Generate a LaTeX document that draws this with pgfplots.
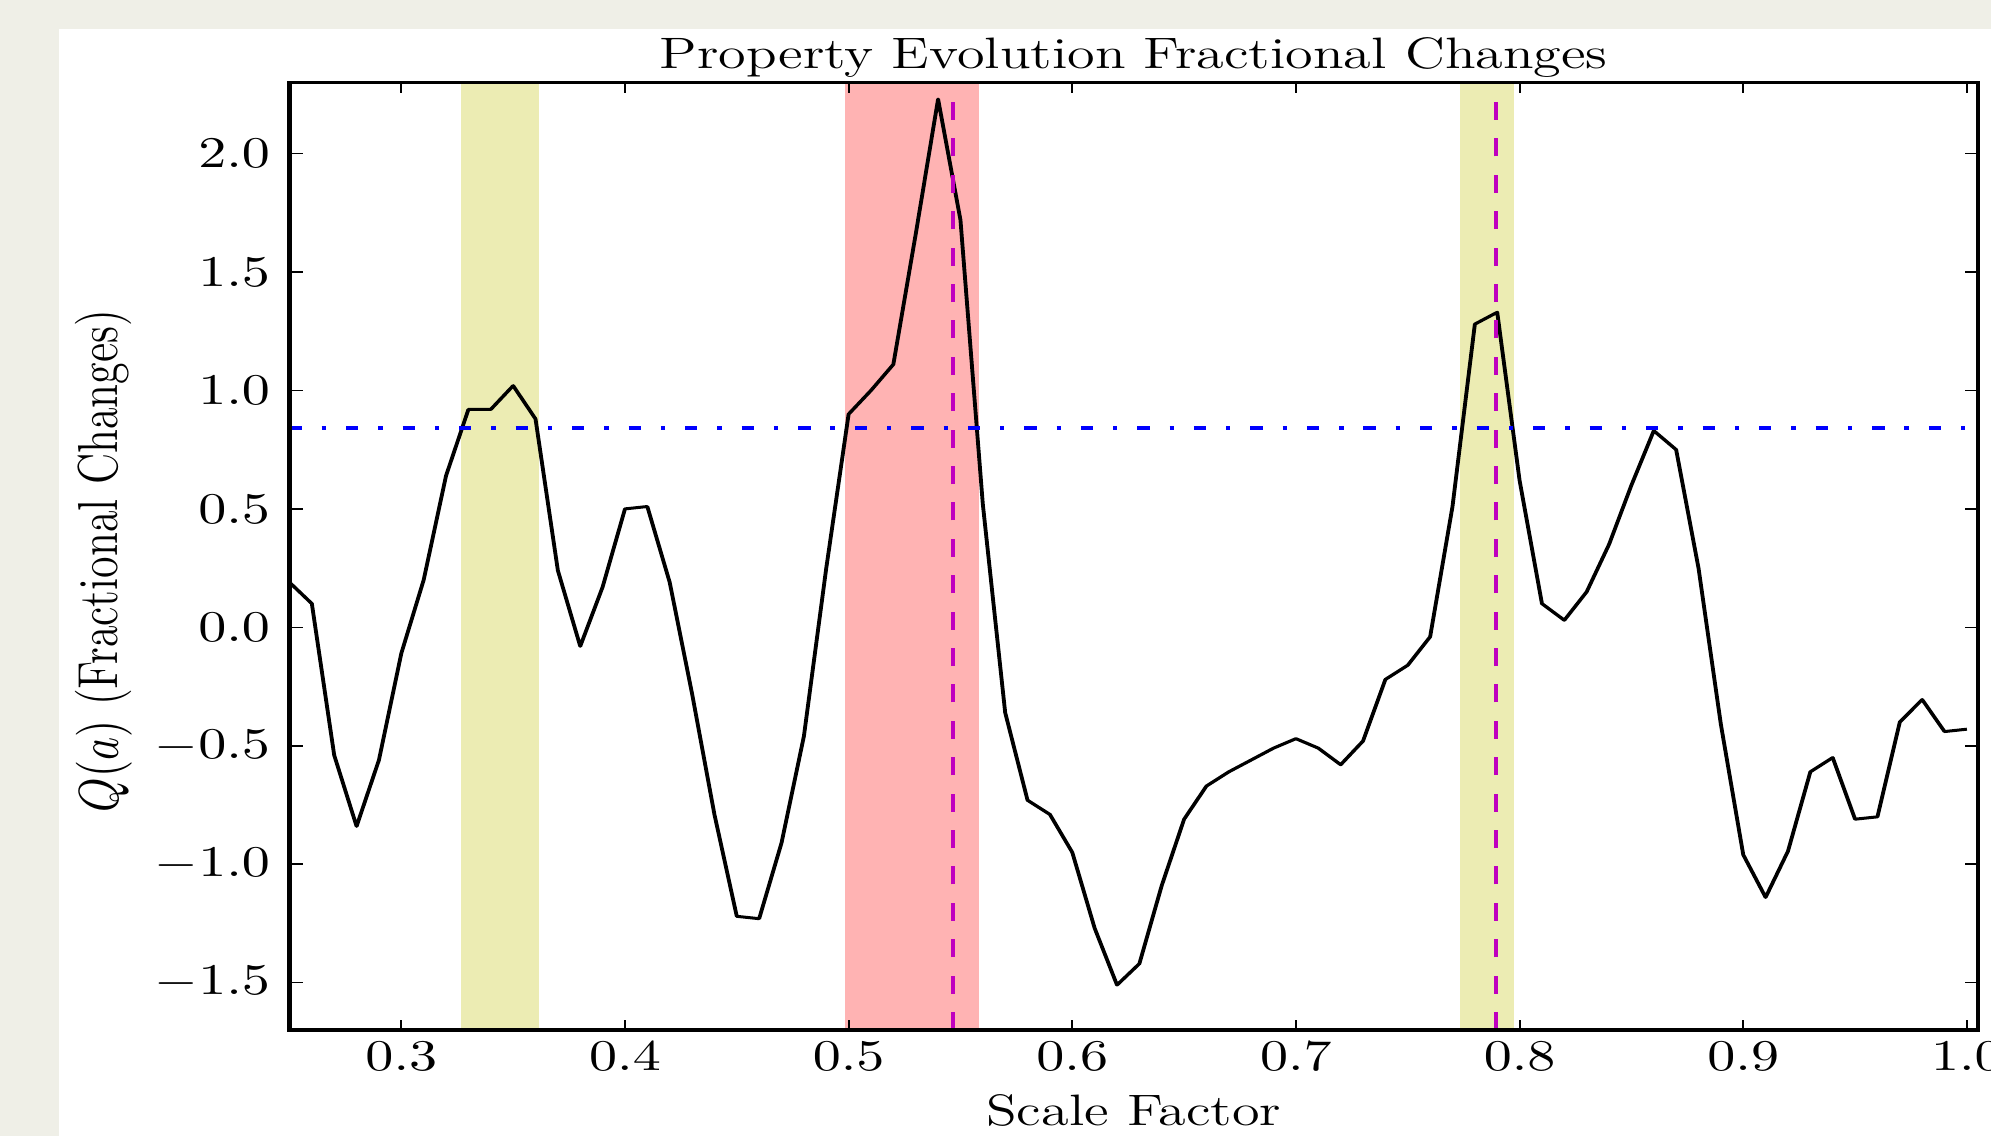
\documentclass[border=0pt]{standalone}
\usepackage{graphicx}
\usepackage{pgfplots}
\pgfplotsset{compat=1.18}

\definecolor{figbg}{RGB}{239,239,231}
\definecolor{bandY}{RGB}{236,236,179}
\definecolor{bandR}{RGB}{255,179,179}
\definecolor{vmag}{RGB}{191,0,191}

\pgfplotstableread{
x     q
0.25  0.19
0.26  0.10
0.27 -0.54
0.28 -0.84
0.29 -0.56
0.30 -0.11
0.31  0.20
0.32  0.64
0.33  0.92
0.34  0.92
0.35  1.02
0.36  0.88
0.37  0.24
0.38 -0.08
0.39  0.17
0.40  0.50
0.41  0.51
0.42  0.19
0.43 -0.28
0.44 -0.79
0.45 -1.22
0.46 -1.23
0.47 -0.91
0.48 -0.46
0.49  0.25
0.50  0.90
0.51  1.00
0.52  1.11
0.53  1.66
0.54  2.23
0.55  1.72
0.56  0.52
0.57 -0.36
0.58 -0.73
0.59 -0.79
0.60 -0.95
0.61 -1.27
0.62 -1.51
0.63 -1.42
0.64 -1.09
0.65 -0.81
0.66 -0.67
0.67 -0.61
0.68 -0.56
0.69 -0.51
0.70 -0.47
0.71 -0.51
0.72 -0.58
0.73 -0.48
0.74 -0.22
0.75 -0.16
0.76 -0.04
0.77  0.51
0.78  1.28
0.79  1.33
0.80  0.62
0.81  0.10
0.82  0.03
0.83  0.15
0.84  0.35
0.85  0.60
0.86  0.83
0.87  0.75
0.88  0.25
0.89 -0.41
0.90 -0.96
0.91 -1.14
0.92 -0.945
0.93 -0.61
0.94 -0.55
0.95 -0.81
0.96 -0.80
0.97 -0.40
0.98 -0.305
0.99 -0.44
1.00 -0.43
}\qdata

\begin{document}
% the reference is stretched sideways, so the whole picture is too
\scalebox{1.28}[1]{%
\begin{tikzpicture}
\useasboundingbox (-56.54pt,-26.5pt) rectangle (332.32pt,257.5pt);
\fill[figbg] (-56.54pt,-26.5pt) rectangle (332.32pt,257.5pt);
\fill[white] (-45.02pt,-26.5pt) rectangle (332.32pt,250.25pt);
\begin{axis}[
    at={(0pt,0pt)}, anchor=south west,
    scale only axis, width=329.79pt, height=236.875pt,
    xmin=0.25, xmax=1.005, ymin=-1.7, ymax=2.3,
    axis on top,
    axis line style={line width=0.85pt},
    every tick/.style={black, line width=0.4pt},
    major tick length=2.6pt,
    tick align=inside,
    xtick={0.3,0.4,0.5,0.6,0.7,0.8,0.9,1.0},
    ytick={-1.5,-1,-0.5,0,0.5,1,1.5,2},
    tick label style={font=\fontsize{10.5}{12}\selectfont},
    xticklabel style={anchor=base, yshift=-10pt},
    yticklabel style={anchor=east, inner sep=0pt, xshift=-3.6pt},
    /pgf/number format/.cd, fixed, fixed zerofill, precision=1, /pgfplots/.cd,
    title={Property Evolution Fractional Changes},
    title style={at={(0.5,1)}, anchor=base, yshift=-2.4pt, font=\fontsize{11}{13}\selectfont},
    xlabel={Scale Factor},
    xlabel style={at={(0.5,0)}, anchor=base, yshift=-23.75pt, font=\fontsize{11}{13}\selectfont},
    ylabel={$Q(a)$ (Fractional Changes)},
    ylabel style={at={(-0.1016,0.495)}, anchor=base, font=\fontsize{11}{13}\selectfont},
]
% shaded intervals
\addplot[draw=none, fill=bandY] coordinates {(0.3265,-1.7) (0.3615,-1.7) (0.3615,2.3) (0.3265,2.3)};
\addplot[draw=none, fill=bandR] coordinates {(0.4985,-1.7) (0.5582,-1.7) (0.5582,2.3) (0.4985,2.3)};
\addplot[draw=none, fill=bandY] coordinates {(0.7735,-1.7) (0.7975,-1.7) (0.7975,2.3) (0.7735,2.3)};

\addplot[black, line width=0.75pt, line join=round] table[x=x, y=q] {\qdata};

% threshold and event markers
\addplot[blue, line width=0.8pt, dash pattern=on 2.4pt off 3.9pt on 0.84pt off 3.9pt]
    coordinates {(0.25,0.8415) (1.005,0.8415)};
\addplot[vmag, line width=0.85pt, dash pattern=on 4.5pt off 4.6pt]
    coordinates {(0.5466,-1.7) (0.5466,2.3)};
\addplot[vmag, line width=0.85pt, dash pattern=on 4.5pt off 4.6pt]
    coordinates {(0.7895,-1.7) (0.7895,2.3)};
\end{axis}
\end{tikzpicture}}
\end{document}
